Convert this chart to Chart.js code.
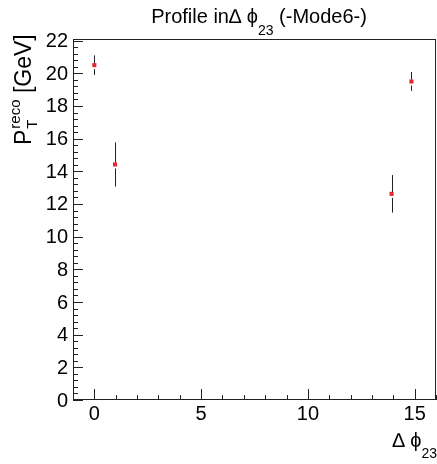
<!DOCTYPE html>
<html>
<head>
<meta charset="utf-8">
<script src="https://cdn.jsdelivr.net/npm/chart.js@4.4.1/dist/chart.umd.min.js"></script>
<style>
  body { margin: 0; background: #fff; }
  canvas { display: block; }
</style>
</head>
<body>
<canvas id="myChart" width="437" height="464"></canvas>
<script>
'use strict'
// profile bins: centre, mean pT and error on the mean
let binCenters = [0, 0.97, 13.92, 14.85];
let meanPt = [20.5, 14.42, 12.62, 19.5];
let meanErr = [0.6, 1.35, 1.15, 0.58];
let xTicks = [0, 5, 10, 15];
let yTicks = [0, 2, 4, 6, 8, 10, 12, 14, 16, 18, 20, 22];

let FONT = "'Liberation Sans', Arial, sans-serif";

let points = [];
for (let i = 0; i < binCenters.length; i++) {
    points.push({ x: binCenters[i], y: meanPt[i] });
}

// write a list of pieces one after another, each with its own size and shift
function drawPieces(ctx, pieces, x, y, align) {
    let total = 0;
    for (let p of pieces) {
        ctx.font = p.size + 'px ' + FONT;
        p.w = ctx.measureText(p.t).width;
        total += p.w;
    }
    let cx = align === 'right' ? x - total : align === 'center' ? x - total / 2 : x;
    ctx.textAlign = 'left';
    ctx.textBaseline = 'alphabetic';
    for (let p of pieces) {
        ctx.font = p.size + 'px ' + FONT;
        ctx.fillText(p.t, cx, y + (p.dy || 0));
        cx += p.w;
    }
}

// frame, inside ticks, tick labels, titles
let frameAndText = {
    id: 'frameAndText',
    afterDraw(chart) {
        let ctx = chart.ctx;
        let a = chart.chartArea;
        let xs = chart.scales.x;
        let ys = chart.scales.y;
        ctx.save();
        ctx.strokeStyle = '#222';
        ctx.lineWidth = 1;
        ctx.strokeRect(a.left + 0.5, a.top + 0.5, a.right - a.left - 1, a.bottom - a.top - 1);

        ctx.beginPath();
        // x axis: major every 5, minor every 1
        for (let v = -1; v <= 16; v++) {
            let px = Math.round(xs.getPixelForValue(v)) + 0.5;
            let len = v % 5 === 0 ? 11 : 5;
            ctx.moveTo(px, a.bottom);
            ctx.lineTo(px, a.bottom - len);
        }
        // y axis: major every 2, minor every 0.4
        for (let k = 0; k <= 55; k++) {
            let v = k * 0.4;
            if (v > ys.max) break;
            let py = Math.round(ys.getPixelForValue(v)) + 0.5;
            let len = k % 5 === 0 ? 10 : 5;
            ctx.moveTo(a.left, py);
            ctx.lineTo(a.left + len, py);
        }
        ctx.stroke();

        ctx.fillStyle = '#000';
        ctx.font = '20px ' + FONT;
        ctx.textAlign = 'center';
        ctx.textBaseline = 'top';
        for (let v of xTicks) {
            ctx.fillText(String(v), xs.getPixelForValue(v), a.bottom + 4);
        }
        ctx.textAlign = 'right';
        ctx.textBaseline = 'middle';
        for (let v of yTicks) {
            ctx.fillText(String(v), a.left - 5, ys.getPixelForValue(v) + 1);
        }

        // title
        drawPieces(ctx, [
            { t: 'Profile in\u2206 \u03d5', size: 20 },
            { t: '23', size: 14, dy: 12 },
            { t: ' (-Mode6-)', size: 20 }
        ], 259, 23, 'center');

        // x title
        drawPieces(ctx, [
            { t: '\u2206 \u03d5', size: 20 },
            { t: '23', size: 14, dy: 11 }
        ], 437, 447, 'right');

        // y title, rotated, read bottom to top
        ctx.translate(31, 145);
        ctx.rotate(-Math.PI / 2);
        ctx.textAlign = 'left';
        ctx.textBaseline = 'alphabetic';
        ctx.font = '23px ' + FONT;
        ctx.fillText('P', 0, 0);
        let pw = ctx.measureText('P').width;
        ctx.font = '15px ' + FONT;
        ctx.fillText('reco', pw + 1, -11);
        ctx.fillText('T', pw + 1, 6);
        let rw = ctx.measureText('reco').width;
        ctx.font = '23px ' + FONT;
        ctx.fillText(' [GeV]', pw + rw + 1, 0);
        ctx.restore();
    }
};

// vertical error bars, broken around the marker
let errorBars = {
    id: 'errorBars',
    afterDatasetsDraw(chart) {
        let ctx = chart.ctx;
        let xs = chart.scales.x;
        let ys = chart.scales.y;
        ctx.save();
        ctx.strokeStyle = '#222';
        ctx.lineWidth = 1;
        ctx.beginPath();
        for (let i = 0; i < binCenters.length; i++) {
            let px = Math.round(xs.getPixelForValue(binCenters[i])) + 0.5;
            let py = ys.getPixelForValue(meanPt[i]);
            let top = ys.getPixelForValue(meanPt[i] + meanErr[i]);
            let bot = ys.getPixelForValue(meanPt[i] - meanErr[i]);
            ctx.moveTo(px, top);
            ctx.lineTo(px, py - 2);
            ctx.moveTo(px, py + 4);
            ctx.lineTo(px, bot);
        }
        ctx.stroke();
        ctx.restore();
    }
};

let ctx = document.getElementById('myChart').getContext('2d');
let myChart = new Chart(ctx, {
    type: 'scatter',
    data: {
        datasets: [{
            data: points,
            pointStyle: 'rect',
            pointRadius: 2.9,
            pointHoverRadius: 2.9,
            pointBorderWidth: 0,
            pointBackgroundColor: '#e8262e',
            pointBorderColor: '#e8262e',
            showLine: false
        }]
    },
    options: {
        responsive: false,
        animation: false,
        devicePixelRatio: 1,
        layout: { autoPadding: false, padding: { top: 39, right: 1, left: 0, bottom: 0 } },
        plugins: {
            legend: { display: false },
            tooltip: { enabled: false },
            title: { display: false }
        },
        scales: {
            x: {
                type: 'linear',
                min: -1,
                max: 16,
                afterBuildTicks: function (scale) {
                    scale.ticks = xTicks.map(v => ({ value: v }));
                },
                afterFit: function (scale) {
                    scale.height = 64;
                    scale.paddingLeft = 0;
                    scale.paddingRight = 0;
                },
                grid: { display: false },
                border: { display: false },
                ticks: { display: false }
            },
            y: {
                type: 'linear',
                min: 0,
                max: 22.1,
                afterBuildTicks: function (scale) {
                    scale.ticks = yTicks.map(v => ({ value: v }));
                },
                afterFit: function (scale) {
                    scale.width = 73;
                    scale.paddingTop = 0;
                    scale.paddingBottom = 0;
                },
                grid: { display: false },
                border: { display: false },
                ticks: { display: false }
            }
        }
    },
    plugins: [errorBars, frameAndText]
});
</script>
</body>
</html>
